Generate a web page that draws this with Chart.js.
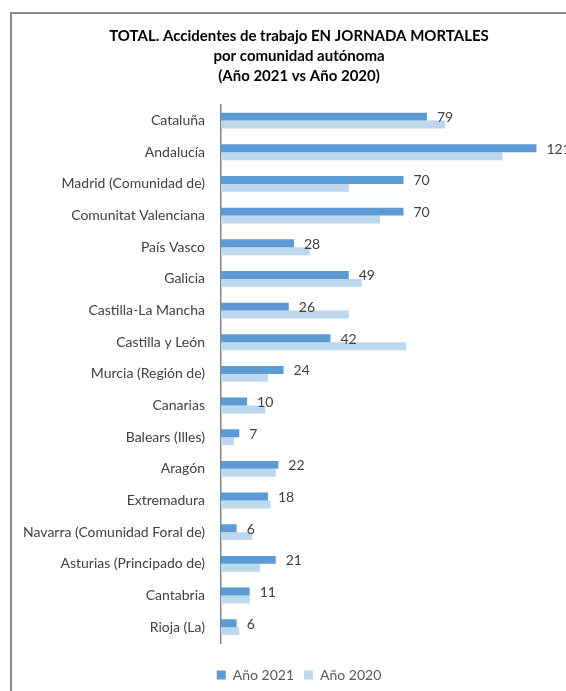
<!DOCTYPE html>
<html>
<head>
<meta charset="utf-8">
<script src="https://cdn.jsdelivr.net/npm/chart.js@4.4.1/dist/chart.umd.min.js"></script>
<style>
  html, body { margin: 0; padding: 0; background: #fff; overflow: hidden; }
  #frame {
    position: absolute; left: 10px; top: 12px;
    width: 576px; height: 700px;
    border: 2px solid #8a8a8a;
  }
  canvas { display: block; }
</style>
</head>
<body>
<div id="frame">
  <canvas id="chart" width="576" height="678"></canvas>
</div>
<script>
const comunidades = [
  'Cataluña', 'Andalucía', 'Madrid (Comunidad de)', 'Comunitat Valenciana',
  'País Vasco', 'Galicia', 'Castilla-La Mancha', 'Castilla y León',
  'Murcia (Región de)', 'Canarias', 'Balears (Illes)', 'Aragón',
  'Extremadura', 'Navarra (Comunidad Foral de)', 'Asturias (Principado de)',
  'Cantabria', 'Rioja (La)'
];
const anio2021 = [79, 121, 70, 70, 28, 49, 26, 42, 24, 10, 7, 22, 18, 6, 21, 11, 6];
const anio2020 = [86, 108, 49, 61, 34, 54, 49, 71, 18, 17, 5, 21, 19, 12, 15, 11, 7];
const seriesNames = ['Año 2021', 'Año 2020'];
const titleLines = [
  'TOTAL. Accidentes de trabajo EN JORNADA MORTALES',
  'por comunidad autónoma',
  '(Año 2021 vs Año 2020)'
];

const FONT = 'Lato, "Open Sans", sans-serif';

// value labels next to the 2021 bars
const valueLabels = {
  id: 'valueLabels',
  afterDatasetsDraw(chart) {
    const ctx = chart.ctx;
    const meta = chart.getDatasetMeta(0);
    ctx.save();
    ctx.font = '14px ' + FONT;
    ctx.fillStyle = '#404040';
    ctx.textAlign = 'left';
    ctx.textBaseline = 'middle';
    meta.data.forEach((bar, i) => {
      ctx.fillText(String(anio2021[i]), bar.x + 10, bar.y + 1);
    });
    ctx.restore();
  }
};

new Chart(document.getElementById('chart'), {
  type: 'bar',
  data: {
    labels: comunidades,
    datasets: [
      { label: seriesNames[0], data: anio2021, backgroundColor: '#5b9bd5' },
      { label: seriesNames[1], data: anio2020, backgroundColor: '#bdd7ee' }
    ]
  },
  options: {
    indexAxis: 'y',
    responsive: false,
    animation: false,
    devicePixelRatio: 1,
    categoryPercentage: 0.5,
    barPercentage: 1,
    layout: { padding: { left: 0, right: 2, top: 0, bottom: 0 } },
    scales: {
      x: {
        min: 0, max: 140,
        grid: { display: false },
        border: { display: false },
        ticks: { display: false },
        afterFit(scale) { scale.height = 15; }
      },
      y: {
        grid: { display: false, drawTicks: false },
        border: { display: true, color: '#868686', width: 1.5 },
        ticks: { color: '#404040', font: { family: FONT, size: 14 }, padding: 16 },
        afterFit(scale) { scale.width = 209; }
      }
    },
    plugins: {
      title: {
        display: true,
        text: titleLines,
        color: '#000',
        font: { family: FONT, size: 15, weight: 'bold', lineHeight: 1.35 },
        padding: { top: 12, bottom: 18 }
      },
      legend: {
        position: 'bottom',
        labels: {
          boxWidth: 9, boxHeight: 9,
          color: '#595959',
          font: { family: FONT, size: 14 },
          padding: 10
        }
      },
      tooltip: { enabled: false }
    }
  },
  plugins: [valueLabels]
});
</script>
</body>
</html>
